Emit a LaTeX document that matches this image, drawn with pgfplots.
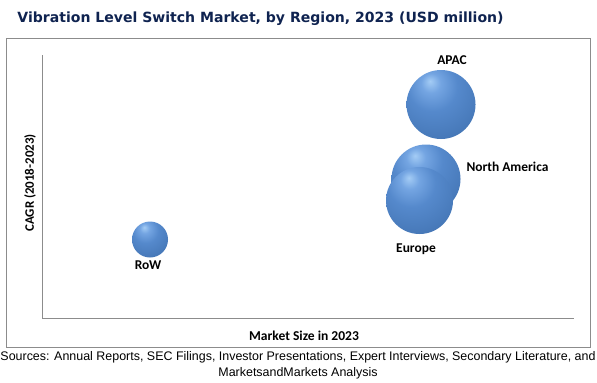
\documentclass[border=0pt]{standalone}
\usepackage{pgfplots}
\pgfplotsset{compat=1.18}
\usepackage{fontspec}
\setmainfont{Liberation Sans}
\newfontfamily\titlefont{DejaVu Sans}
\newfontfamily\labfont{Carlito}
\definecolor{titleblue}{HTML}{0F2350}
\definecolor{framegray}{HTML}{8C8C8C}
\definecolor{sA}{HTML}{A4CCF5}
\definecolor{sB}{HTML}{74A5E2}
\definecolor{sC}{HTML}{5589CC}
\definecolor{sD}{HTML}{4779B9}
\definecolor{sE}{HTML}{335B93}
\definecolor{sF}{HTML}{1E3860}
\pgfdeclareradialshading{mysphere}{\pgfpoint{-8bp}{17bp}}{%
  color(0bp)=(sA); color(7bp)=(sB); color(18bp)=(sC); color(34bp)=(sD);
  color(50bp)=(sE); color(64bp)=(sF); color(80bp)=(sF)}
\pgfdeclareplotmark{sphere}{%
  \pgfpathcircle{\pgfpointorigin}{\pgfplotmarksize}%
  \pgfshadepath{mysphere}{0}%
  \pgfusepath{discard}}
\begin{document}
\begin{tikzpicture}[x=1bp,y=1bp]
\path[use as bounding box] (0,0) rectangle (597,-382);
\draw[framegray, line width=0.9bp] (6.5,-38.5) rectangle (590.5,-347.5);
\node[titleblue, font=\titlefont\bfseries\fontsize{14.1}{17}\selectfont, anchor=base] at (260.5,-22) {Vibration Level Switch Market, by Region, 2023 (USD million)};
\node[font=\labfont\bfseries\fontsize{13}{15}\selectfont, rotate=90] at (30,-183) {CAGR (2018-2023)};
\node[font=\labfont\bfseries\fontsize{13.6}{15}\selectfont] at (304,-336) {Market Size in 2023};
\node[font=\fontsize{12.5}{14}\selectfont, anchor=base] at (298,-360) {Sources: Annual Reports, SEC Filings, Investor Presentations, Expert Interviews, Secondary Literature, and};
\node[font=\fontsize{12.5}{14}\selectfont, anchor=base] at (298,-376) {MarketsandMarkets Analysis};
\begin{axis}[at={(42bp,-318bp)}, anchor=south west, scale only axis,
  width=532bp, height=263bp, xmin=0, xmax=532, ymin=0, ymax=263,
  axis x line*=bottom, axis y line*=left,
  axis line style={framegray, -, line width=0.9bp}, ticks=none, clip=false]
\addplot[only marks, mark=sphere, mark size=18bp] coordinates {(108,78.5)};
\addplot[only marks, mark=sphere, mark size=34.5bp] coordinates {(399,213.5)};
\addplot[only marks, mark=sphere, mark size=34.5bp] coordinates {(384,139)};
\addplot[only marks, mark=sphere, mark size=33.5bp] coordinates {(377.5,117.5)};
\node[font=\labfont\bfseries\fontsize{13.5}{15}\selectfont] at (axis cs:410,258) {APAC};
\node[font=\labfont\bfseries\fontsize{13.5}{15}\selectfont, anchor=west] at (axis cs:421,151) {North America};
\node[font=\labfont\bfseries\fontsize{13.5}{15}\selectfont] at (axis cs:374,69) {Europe};
\node[font=\labfont\bfseries\fontsize{13.5}{15}\selectfont] at (axis cs:106,53) {RoW};
\end{axis}
\end{tikzpicture}
\end{document}
